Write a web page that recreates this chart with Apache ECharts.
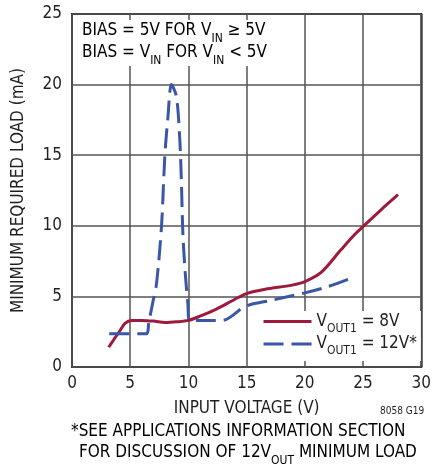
<!DOCTYPE html>
<html><head><meta charset="utf-8">
<script src="https://cdn.jsdelivr.net/npm/echarts@6/dist/echarts.min.js"></script>
<style>html,body{margin:0;padding:0;background:#fff}#c{width:434px;height:468px}</style>
</head><body><div id="c"></div>
<script>
// ---- data ----
const xMin = 0, xMax = 30, xStep = 5;
const yMin = 0, yMax = 25, yStep = 5;
const vout8Name = 'V{s|OUT1} = 8V';
const vout8X = [3.15, 3.6, 4.1, 4.57, 5.13, 6.0, 7.0, 8.0, 9.0, 10.0, 11.0, 12.4, 14.0, 15.0, 16.6, 18.9, 20.0, 21.4, 23.1, 24.3, 25.0, 26.5, 28.0];
const vout8Y = [1.4, 1.95, 2.55, 3.1, 3.29, 3.3, 3.25, 3.15, 3.2, 3.3, 3.6, 4.1, 4.8, 5.2, 5.5, 5.8, 6.05, 6.7, 8.3, 9.4, 9.95, 11.1, 12.2];
const vout12Name = 'V{s|OUT1} = 12V*';
const vout12X = [3.2, 6.35, 6.6, 6.97, 7.26, 7.69, 7.97, 8.25, 8.54, 8.96, 9.24, 9.39, 9.53, 9.75, 9.95, 10.1, 11.0, 12.9, 14.9, 17.0, 20.0, 22.0, 24.0];
const vout12Y = [2.35, 2.35, 3.2, 4.7, 5.9, 10.0, 14.9, 17.8, 20.0, 19.2, 16.4, 13.3, 9.3, 6.4, 4.5, 3.3, 3.3, 3.3, 4.3, 4.7, 5.25, 5.7, 6.3];
const xAxisTitle = 'INPUT VOLTAGE (V)';
const yAxisTitle = 'MINIMUM REQUIRED LOAD (mA)';
const noteLines = 'BIAS = 5V FOR V{s|IN} ≥ 5V\nBIAS = V{s|IN} FOR V{s|IN} < 5V';
const footLine1 = '*SEE APPLICATIONS INFORMATION SECTION';
const footLine2 = 'FOR DISCUSSION OF 12V{s|OUT} MINIMUM LOAD';
const figId = '8058 G19';

// ---- chart ----
const FONT = '"Liberation Sans Narrow", "DejaVu Sans Condensed", sans-serif';
const TXT = '#231f20';
const RED = '#9e1a3c';
const BLUE = '#3a57a7';
const DASH = [20, 8];
const zip = (xs, ys) => xs.map((x, i) => [x, ys[i]]);
const richSub = {
  n: { fontFamily: FONT, fontSize: 17, color: TXT, lineHeight: 22, verticalAlign: 'middle' },
  s: { fontFamily: FONT, fontSize: 12, color: TXT, lineHeight: 12, verticalAlign: 'bottom', padding: [0, 0, -3, 0] }
};
const richLegend = {
  n: { fontFamily: FONT, fontSize: 17, color: TXT, lineHeight: 20, verticalAlign: 'middle' },
  s: { fontFamily: FONT, fontSize: 12, color: TXT, lineHeight: 12, verticalAlign: 'bottom', padding: [0, 0, -3, 0] }
};
function wrapN(str) {
  return str.split('\n').map(line => line.replace(/(^|\})([^{}]+)(?=\{|$)/g, (m, a, b) => a + '{n|' + b + '}')).join('\n');
}
const chart = echarts.init(document.getElementById('c'), null, { renderer: 'canvas' });
chart.setOption({
  animation: false,
  backgroundColor: '#fff',
  textStyle: { fontFamily: FONT },
  grid: { left: 72, right: 10, top: 14, bottom: 101, show: true, borderColor: '#2b2b2b', borderWidth: 2, backgroundColor: 'transparent' },
  xAxis: {
    type: 'value', min: xMin, max: xMax, interval: xStep,
    name: xAxisTitle, nameLocation: 'middle', nameGap: 33,
    nameTextStyle: { fontFamily: FONT, fontSize: 17, color: TXT },
    axisLine: { show: false }, axisTick: { show: false },
    axisLabel: { fontFamily: FONT, fontSize: 17, color: TXT, margin: 8 },
    splitLine: { show: true, lineStyle: { color: '#555', width: 1.5 } }
  },
  yAxis: {
    type: 'value', min: yMin, max: yMax, interval: yStep,
    name: yAxisTitle, nameLocation: 'middle', nameGap: 45, nameRotate: 90,
    nameTextStyle: { fontFamily: FONT, fontSize: 17, color: TXT },
    axisLine: { show: false }, axisTick: { show: false },
    axisLabel: { fontFamily: FONT, fontSize: 17, color: TXT, margin: 10 },
    splitLine: { show: true, lineStyle: { color: '#555', width: 1.5 } }
  },
  legend: {
    show: true, orient: 'vertical', left: 256, top: 311,
    backgroundColor: '#fff', padding: [2, 4, 4, 6],
    itemWidth: 48, itemHeight: 14, itemGap: 1,
    itemStyle: { opacity: 0 },
    data: [
      { name: vout8Name, lineStyle: { color: RED, width: 3, type: 'solid' } },
      { name: vout12Name, lineStyle: { color: BLUE, width: 3, type: DASH, dashOffset: 0 } }
    ],
    textStyle: { fontFamily: FONT, fontSize: 17, color: TXT, rich: richLegend },
    formatter: (name) => wrapN(name)
  },
  series: [
    { name: vout8Name, type: 'line', data: zip(vout8X, vout8Y), smooth: 0.3, symbol: 'none',
      lineStyle: { color: RED, width: 3 }, itemStyle: { color: RED }, z: 3 },
    { name: vout12Name, type: 'line', data: zip(vout12X, vout12Y), smooth: 0.3, symbol: 'none',
      lineStyle: { color: BLUE, width: 3, type: DASH }, itemStyle: { color: BLUE }, z: 4 }
  ],
  graphic: [
    { type: 'text', left: 78, top: 20, z: 10,
      style: { text: wrapN(noteLines), rich: richSub, backgroundColor: '#fff', padding: [0, 4, 2, 4] } },
    { type: 'text', left: 380, top: 406, z: 10,
      style: { text: figId, fontFamily: FONT, fontSize: 10, fill: TXT } },
    { type: 'text', left: 71, top: 423, z: 10,
      style: { text: wrapN(footLine1), rich: richSub } },
    { type: 'text', left: 79, top: 444, z: 10,
      style: { text: wrapN(footLine2), rich: richSub } }
  ]
});
</script></body></html>
